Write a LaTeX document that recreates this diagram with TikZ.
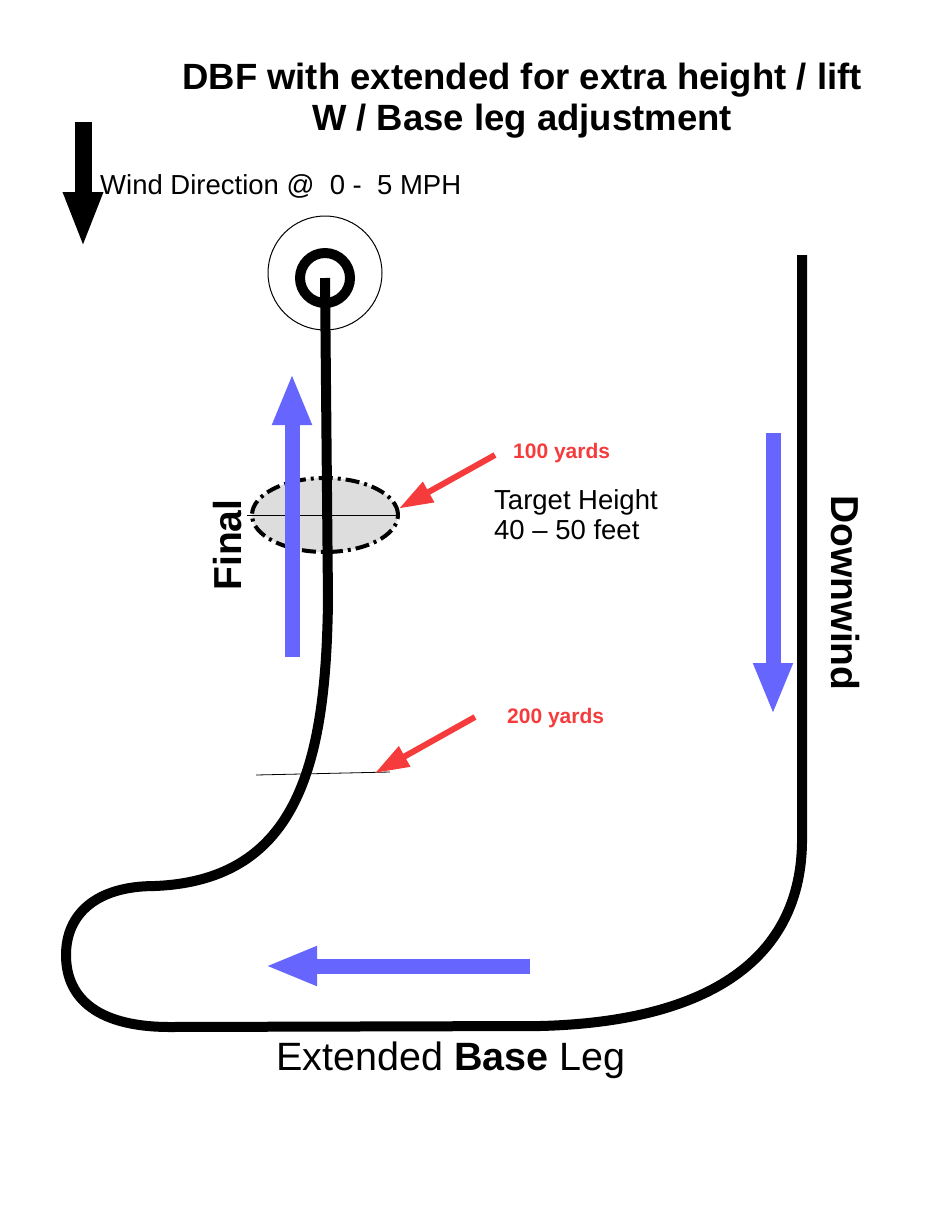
\documentclass[tikz,border=0pt]{standalone}
\usepackage{fontspec}
\setmainfont{Liberation Sans}
\usepackage{xcolor}
\usetikzlibrary{arrows.meta,shapes.geometric,positioning}
\definecolor{legblue}{HTML}{6666FF}
\definecolor{callred}{HTML}{F53B3B}
\definecolor{targetgray}{HTML}{DDDDDD}
\tikzset{
  flight/.style={line width=10pt,black},
  windarr/.style={-{Triangle[length=56pt,width=36pt]},line width=17pt,black},
  legarr/.style={-{Triangle[length=52pt,width=36pt]},line width=15pt,legblue},
  callarr/.style={-{Triangle[length=34pt,width=22pt]},line width=6pt,callred},
  marker/.style={line width=0.8pt,black},
  leglabel/.style={font=\fontsize{39}{46}\selectfont\bfseries,inner sep=0pt},
  yardlabel/.style={font=\fontsize{21}{25}\selectfont\bfseries,text=callred,
    inner sep=0pt,anchor=base west},
  note/.style={font=\fontsize{27.5}{32}\selectfont,inner sep=0pt,anchor=base west},
}

\begin{document}
\begin{tikzpicture}[x=1pt,y=-1pt]
\useasboundingbox (0,0) rectangle (935,1210);

% title and wind
\node[font=\fontsize{36.5}{41}\selectfont\bfseries,align=center] (title) at (522,101)
  {DBF with extended for extra height / lift\\W / Base leg adjustment};
\coordinate (windtop) at (83,122);
\coordinate (windtip) at (83,248);
\draw[windarr] (windtop) -- (windtip);
\node[note] (wind) at (100,194) {Wind Direction @\ \ 0 -\ \ 5 MPH};

% landing circle and target zone
\node[circle,draw,line width=1pt,minimum size=114pt,inner sep=0pt] (field) at (325,273) {};
\node[circle,draw,line width=10pt,minimum size=50pt,inner sep=0pt] (pilot) at (325,278) {};
\node[ellipse,draw,fill=targetgray,line width=4pt,
  dash pattern=on 14pt off 5pt on 3pt off 5pt,
  minimum width=146pt,minimum height=74pt,inner sep=0pt] (target) at (325,515) {};
\draw[marker] ([xshift=-3pt]target.west) -- (target.east);

% legs
\coordinate (finalstart) at (292,657);
\coordinate (finalend) at (292,373);
\draw[legarr] (finalstart) -- (finalend);
\coordinate (downstart) at (773,433);
\coordinate (downend) at (773,715);
\draw[legarr] (downstart) -- (downend);
\coordinate (basestart) at (530,966);
\coordinate (baseend) at (265,966);
\draw[legarr] (basestart) -- (baseend);

% flight path
\draw[flight] (pilot.center) -- (328,600)
  .. controls (326,760) and (300,880) .. (155,886)
  .. controls (95,886) and (66,915) .. (66,955)
  .. controls (66,1000) and (100,1027) .. (170,1027)
  -- (540,1026)
  .. controls (700,1022) and (800,965) .. (802,843)
  -- (802,255);

% 200 yard mark
\coordinate (markL) at (256,775);
\coordinate (markR) at (390,772);
\draw[marker] (markL) -- (markR);

% callouts
\coordinate (call100) at (495,455);
\draw[callarr] (call100) -- (target.5);
\node[yardlabel] (yd100) at (513,458) {100 yards};
\coordinate (call200) at (475,717);
\coordinate (mark200) at (375,773);
\draw[callarr] (call200) -- (mark200);
\node[yardlabel] (yd200) at (507,723) {200 yards};

\node[note] (height) at (494,509) {Target Height};
\node[note] (feet) at ([yshift=-30pt]height.base west) {40 – 50 feet};

% leg names
\node[leglabel,rotate=90] (final) at (228,545) {Final};
\node[leglabel,rotate=-90] (downwind) at (845,593) {Downwind};
\node[font=\fontsize{39.5}{46}\selectfont,inner sep=0pt] (base) at (451,1060)
  {Extended \textbf{Base} Leg};
\end{tikzpicture}
\end{document}
